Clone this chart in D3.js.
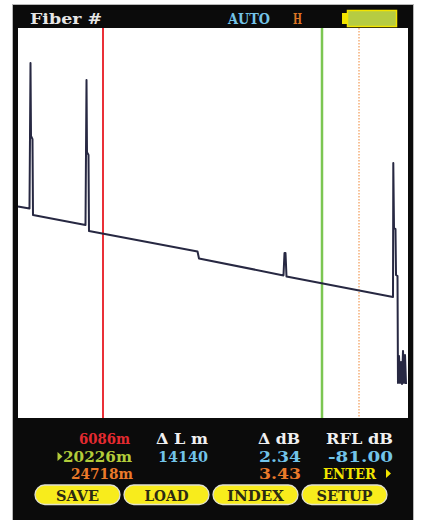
<!DOCTYPE html>
<html>
<head>
<meta charset="utf-8">
<script src="https://cdn.jsdelivr.net/npm/d3@7"></script>
<style>
  html, body { margin: 0; padding: 0; background: #ffffff; }
  svg { display: block; }
  .mono { font-family: "DejaVu Serif", "Liberation Mono", serif; font-weight: bold; }
</style>
</head>
<body>
<svg id="otdr" width="421" height="520"></svg>
<script>
// OTDR trace: distance (m) and relative level (dB)
const traceDistance = [0, 823, 859, 895, 931, 1038, 1074, 4833, 4869, 4905, 4940, 5048, 5083,
  12188, 12284, 17740, 17805, 17869, 17934, 26926, 26945, 26991, 27088, 27121, 27218,
  27250, 27316, 27381, 27446, 27511, 27576, 27641, 27706, 27771];
const traceLevel = [10.09, 9.99, 13.40, 16.93, 13.45, 13.30, 9.68, 9.20, 12.64, 16.12, 12.68, 12.54, 8.92,
  7.94, 7.61, 6.80, 7.87, 7.87, 6.75, 5.77, 12.16, 9.06, 9.01, 6.82, 6.77,
  1.67, 2.96, 1.67, 2.67, 1.62, 3.20, 1.67, 3.00, 1.62];

// Cursor distances (m): A, B, C
const cursorDistance = [6086, 20226, 24718];
const cursorLabels = ["6086m", "20226m", "24718m"];
// Distance axis breakpoints (m) of the zoomed display
const distanceBreaks = [0, 6086, 20226, 24718, 27900];
const levelRange = [0, 18.6];

// Readouts
const deltaLength = ["14140"];
const deltaDb = ["2.34", "3.43"];
const reflectance = ["-81.00"];
const headerLabels = ["Fiber #", "AUTO", "H"];
const columnHeads = ["\u0394 L m", "\u0394 dB", "RFL dB"];
const buttonLabels = ["SAVE", "LOAD", "INDEX", "SETUP"];

const svg = d3.select("#otdr");
const plot = { left: 18, top: 28, right: 408, bottom: 418 };

const x = d3.scaleLinear().domain(distanceBreaks).range([18, 103, 322, 359, 408]);
const y = d3.scaleLinear().domain(levelRange).range([plot.bottom, plot.top]);

// instrument frame
svg.append("rect").attr("x", 12.5).attr("y", 4.5).attr("width", 401).attr("height", 520)
  .attr("fill", "#0b0b0b").attr("stroke", "#b8b8b8").attr("stroke-width", 1);
svg.append("rect").attr("x", plot.left).attr("y", plot.top)
  .attr("width", plot.right - plot.left).attr("height", plot.bottom - plot.top)
  .attr("fill", "#ffffff");

const fs = 15;

// header
const hdr = [
  { t: headerLabels[0], x: 30, w: 72, c: "#e6e6e6" },
  { t: headerLabels[1], x: 228, w: 42, c: "#74c4e8" },
  { t: headerLabels[2], x: 293, w: 9, c: "#dd7424" }
];
svg.selectAll("text.hdr").data(hdr).join("text")
  .attr("class", "hdr mono").attr("x", d => d.x).attr("y", 24)
  .attr("textLength", d => d.w).attr("lengthAdjust", "spacingAndGlyphs")
  .attr("font-size", fs).attr("fill", d => d.c).text(d => d.t);

// battery gauge
svg.append("rect").attr("x", 342).attr("y", 13).attr("width", 6).attr("height", 11).attr("fill", "#f2e400");
svg.append("rect").attr("x", 347.5).attr("y", 10.5).attr("width", 49).attr("height", 16)
  .attr("fill", "#b6cc42").attr("stroke", "#f2e400").attr("stroke-width", 1.5);

// cursors
const cursorStyle = [
  { c: "#ea3038", w: 2, dash: null },
  { c: "#7cc652", w: 2.5, dash: null },
  { c: "#f3a264", w: 1.3, dash: "1.5,1.5" }
];
svg.selectAll("line.cursor").data(cursorDistance).join("line")
  .attr("class", "cursor")
  .attr("x1", d => x(d)).attr("x2", d => x(d))
  .attr("y1", plot.top).attr("y2", plot.bottom)
  .attr("stroke", (d, i) => cursorStyle[i].c)
  .attr("stroke-width", (d, i) => cursorStyle[i].w)
  .attr("stroke-dasharray", (d, i) => cursorStyle[i].dash);

// trace
const pts = traceDistance.map((d, i) => [d, traceLevel[i]]);
const line = d3.line().x(d => x(d[0])).y(d => y(d[1]));
svg.append("path").attr("d", line(pts)).attr("fill", "none")
  .attr("stroke", "#272842").attr("stroke-width", 2).attr("stroke-linejoin", "round");

// readout rows
function txt(t, xx, yy, w, c) {
  svg.append("text").attr("class", "mono").attr("x", xx).attr("y", yy)
    .attr("font-size", fs).attr("fill", c)
    .attr("textLength", w).attr("lengthAdjust", "spacingAndGlyphs").text(t);
}
function tri(xx, yy, c) {
  svg.append("path").attr("d", `M${xx},${yy - 9} L${xx + 5},${yy - 4.5} L${xx},${yy} Z`).attr("fill", c);
}
txt(cursorLabels[0], 79, 444, 51, "#e42a30");
txt(columnHeads[0], 156, 444, 52, "#f0f0f0");
txt(columnHeads[1], 258, 444, 42, "#f0f0f0");
txt(columnHeads[2], 326, 444, 67, "#f0f0f0");

tri(57.5, 461, "#b3cc3a");
txt(cursorLabels[1], 63, 462, 69, "#b3cc3a");
txt(deltaLength[0], 158, 462, 50, "#72c4ea");
txt(deltaDb[0], 259, 462, 42, "#72c4ea");
txt(reflectance[0], 328, 462, 65, "#72c4ea");

txt(cursorLabels[2], 71, 479, 62, "#ea7a2a");
txt(deltaDb[1], 259, 479, 42, "#ea7a2a");
txt("ENTER", 323, 479, 53, "#f2e400");
tri(386, 478, "#f2e400");

// soft keys
const btnX = [35, 124, 213, 302];
const btnW = 85;
const btnTextW = [43, 44, 57, 56];
const btn = svg.selectAll("g.btn").data(buttonLabels).join("g").attr("class", "btn")
  .attr("transform", (d, i) => `translate(${btnX[i]},485)`);
btn.append("rect").attr("width", btnW).attr("height", 19.5).attr("rx", 9.75)
  .attr("fill", "#f8ec1c").attr("stroke", "#e0e0d0").attr("stroke-width", 1.3);
btn.append("text").attr("class", "mono").attr("x", btnW / 2).attr("y", 15.5)
  .attr("text-anchor", "middle").attr("font-size", fs).attr("fill", "#2b2a14")
  .attr("textLength", (d, i) => btnTextW[i]).attr("lengthAdjust", "spacingAndGlyphs")
  .text(d => d);
</script>
</body>
</html>
